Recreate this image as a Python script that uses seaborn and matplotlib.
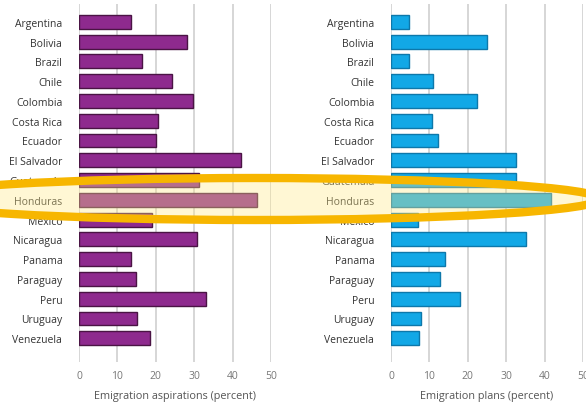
import pandas as pd
import matplotlib
matplotlib.use("Agg")
import matplotlib.pyplot as plt
import seaborn as sns
from matplotlib.patches import Ellipse

countries = ["Argentina", "Bolivia", "Brazil", "Chile", "Colombia", "Costa Rica",
             "Ecuador", "El Salvador", "Guatemala", "Honduras", "Mexico", "Nicaragua",
             "Panama", "Paraguay", "Peru", "Uruguay", "Venezuela"]
aspirations = [13.5, 28.0, 16.4, 24.2, 29.7, 20.7, 20.1, 42.3, 31.2, 46.4,
               19.1, 30.8, 13.6, 14.8, 33.0, 15.1, 18.5]
plans = [4.7, 25.0, 4.6, 10.9, 22.5, 10.6, 12.2, 32.5, 32.5, 41.6,
         7.0, 35.2, 14.0, 12.7, 17.9, 7.8, 7.2]
ticks = [0, 10, 20, 30, 40, 50]

df = pd.DataFrame({"country": countries, "aspirations": aspirations, "plans": plans})

sns.set_style("white")
plt.rcParams["font.family"] = ["Open Sans", "DejaVu Sans"]

W, H = 586, 406
fig = plt.figure(figsize=(W / 100, H / 100), dpi=100)

def px_axes(x0, x1, y0, y1):
    return fig.add_axes([x0 / W, 1 - y1 / H, (x1 - x0) / W, (y1 - y0) / H])

panels = [
    (79, "aspirations", "#8e2a8e", "#4a1444", "Emigration aspirations (percent)"),
    (391, "plans", "#12a8e6", "#0d78aa", "Emigration plans (percent)"),
]

for x0, col, fc, ec, label in panels:
    ax = px_axes(x0, x0 + 192, 5, 363)
    sns.barplot(data=df, y="country", x=col, orient="h", color=fc,
                edgecolor=ec, linewidth=1.0, width=0.7, saturation=1, ax=ax, zorder=3)
    ax.set_xlim(0, 50)
    ax.set_ylim(17.2, -0.9)
    ax.set_xticks(ticks)
    ax.grid(axis="x", color="#cfcfcf", linewidth=1.2, zorder=0)
    ax.set_axisbelow(True)
    for s in ax.spines.values():
        s.set_visible(False)
    ax.tick_params(axis="both", length=0)
    ax.tick_params(axis="x", pad=6, labelsize=7.5, labelcolor="#777777")
    ax.tick_params(axis="y", pad=12, labelsize=7.5, labelcolor="#333333")
    ax.set_ylabel("")
    ax.set_xlabel(label, fontsize=7.8, color="#555555", labelpad=6)

# highlight around the Honduras row
ov = fig.add_axes([0, 0, 1, 1], zorder=10)
ov.set_xlim(0, W)
ov.set_ylim(H, 0)
ov.axis("off")
ov.patch.set_alpha(0)
ov.add_patch(Ellipse((255, 200), 690, 42, facecolor="#ffe98a", alpha=0.36, edgecolor="none"))
ov.add_patch(Ellipse((255, 200), 690, 42, facecolor="none", edgecolor="#f7b600", linewidth=6))

fig.savefig("out.png", dpi=100)
